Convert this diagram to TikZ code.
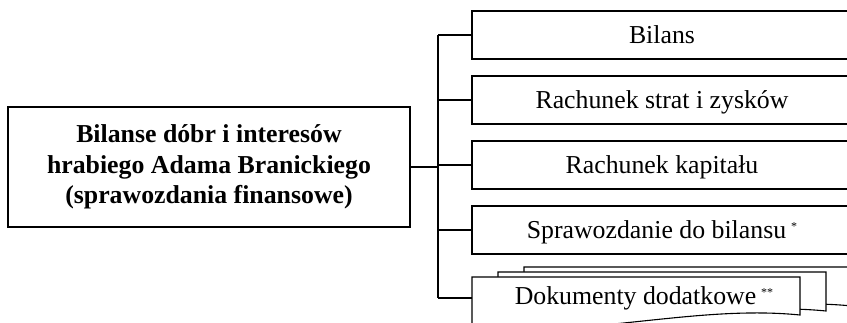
\documentclass[tikz,border=0pt]{standalone}
\usepackage{fontspec}
\setmainfont{Liberation Serif}
\tikzset{
	box/.style={draw, line width=1.1pt, fill=white, minimum width=380pt, minimum height=48pt, inner sep=0pt, text height=18pt, text depth=0pt},
	mainbox/.style={draw, line width=1.1pt, minimum width=402pt, minimum height=120pt, inner sep=0pt, align=center, font=\fontsize{25.8}{30.5}\selectfont\bfseries},
	sheet/.style={draw, line width=1.1pt, fill=white},
	link/.style={line width=1.1pt},
}
\newcommand{\gwiazdka}[1]{\hspace{5pt}\raisebox{8pt}{\fontsize{12}{12}\selectfont #1}}

\begin{document}
\begin{tikzpicture}[x=1pt, y=-1pt, font=\fontsize{25.8}{30}\selectfont]
	\useasboundingbox (0, 0) rectangle (847, 323);

	\node[mainbox] (glowny) at(209, 167){Bilanse dóbr i interesów\\hrabiego Adama Branickiego\\(sprawozdania finansowe)};

		\node[box] (bilans) at(662, 35){Bilans};
		\node[box] (rachunek) at(662, 100){Rachunek strat i zysków};
		\node[box] (kapital) at(662, 165){Rachunek kapitału};
		\node[box] (sprawozdanie) at(662, 230){Sprawozdanie do bilansu\gwiazdka{*}};

		% stos dokumentow
		\draw[sheet](524, 320) to (524, 267) to (852, 267) to (852, 306) .. controls (752, 296) and (652, 326) .. (524, 320) -- cycle;
		\draw[sheet](498, 325) to (498, 272) to (826, 272) to (826, 311) .. controls (726, 301) and (626, 331) .. (498, 325) -- cycle;
		\draw[sheet](472, 330) to (472, 277) to (800, 277) to (800, 315) .. controls (700, 305) and (600, 335) .. (472, 330) -- cycle;
		\node[text height=18pt, text depth=0pt, inner sep=0pt] (dodatkowe) at(644, 296){Dokumenty dodatkowe\gwiazdka{**}};

	\coordinate (pien) at(438, 167);
	\coordinate (dok) at(472, 298);
	\draw[link](glowny.east) to (pien);
	\draw[link](bilans.west -| pien) to (dok -| pien);
		\draw[link](bilans.west -| pien) to (bilans.west);
		\draw[link](rachunek.west -| pien) to (rachunek.west);
		\draw[link](kapital.west -| pien) to (kapital.west);
		\draw[link](sprawozdanie.west -| pien) to (sprawozdanie.west);
		\draw[link](dok -| pien) to (dok);
\end{tikzpicture}
\end{document}
